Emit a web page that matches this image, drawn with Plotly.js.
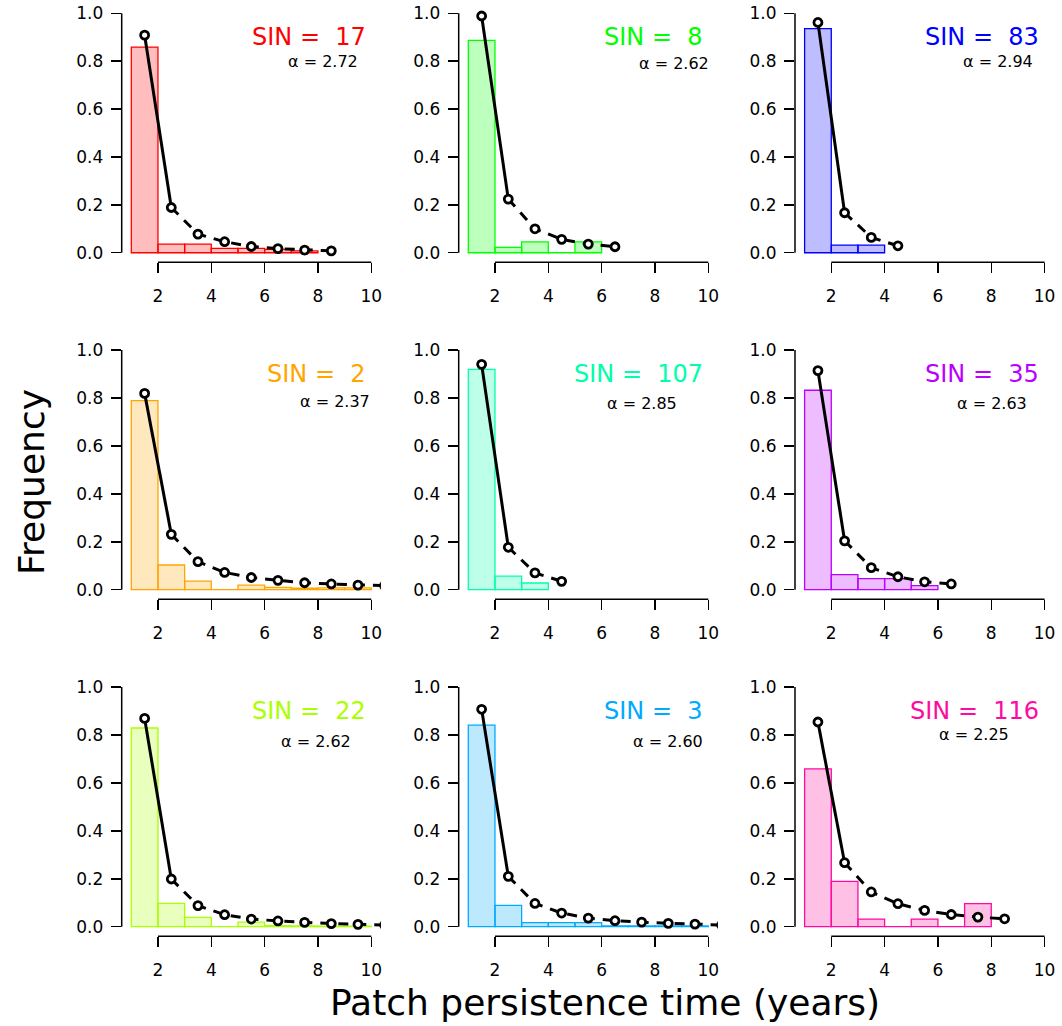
<!DOCTYPE html>
<html>
<head>
<meta charset="utf-8">
<script src="https://cdn.plot.ly/plotly-3.0.1.min.js"></script>
<style>html,body{margin:0;padding:0;background:#fff;}#chart{width:1062px;height:1026px;}</style>
</head>
<body>
<div id="chart"></div>
<script>
// ---- data ----
const binMid = [1.5, 2.5, 3.5, 4.5, 5.5, 6.5, 7.5, 8.5, 9.5, 10.5];
const sinIds = [17, 8, 83, 2, 107, 35, 22, 3, 116];
const alphaValues = [2.72, 2.62, 2.94, 2.37, 2.85, 2.63, 2.62, 2.60, 2.25];

const histSIN17  = [0.859, 0.036, 0.036, 0.018, 0.018, 0.014, 0.008];
const fitSIN17   = [0.909, 0.189, 0.078, 0.046, 0.026, 0.017, 0.011, 0.008];
const histSIN8   = [0.887, 0.022, 0.045, 0, 0.045];
const fitSIN8    = [0.989, 0.224, 0.100, 0.056, 0.036, 0.025];
const histSIN83  = [0.936, 0.032, 0.032];
const fitSIN83   = [0.962, 0.167, 0.064, 0.029];
const histSIN2   = [0.789, 0.103, 0.036, 0, 0.019, 0.010, 0.006, 0.008, 0.008];
const fitSIN2    = [0.819, 0.231, 0.117, 0.072, 0.051, 0.039, 0.029, 0.024, 0.019, 0.017];
const histSIN107 = [0.919, 0.057, 0.028];
const fitSIN107  = [0.940, 0.177, 0.070, 0.035];
const histSIN35  = [0.832, 0.063, 0.046, 0.046, 0.017];
const fitSIN35   = [0.914, 0.204, 0.092, 0.054, 0.033, 0.024];
const histSIN22  = [0.829, 0.097, 0.039, 0, 0.019, 0.004, 0.003, 0.002, 0.002];
const fitSIN22   = [0.869, 0.199, 0.088, 0.050, 0.032, 0.024, 0.018, 0.013, 0.010, 0.007];
const histSIN3   = [0.841, 0.089, 0.017, 0.017, 0.017, 0.003, 0.003, 0.003, 0.003];
const fitSIN3    = [0.907, 0.210, 0.097, 0.057, 0.036, 0.025, 0.019, 0.014, 0.011, 0.007];
const histSIN116 = [0.658, 0.189, 0.032, 0, 0.032, 0, 0.096];
const fitSIN116  = [0.854, 0.267, 0.145, 0.096, 0.068, 0.051, 0.040, 0.033];

const xTicks = [2, 4, 6, 8, 10];
const yTicks = [0, 0.2, 0.4, 0.6, 0.8, 1.0];
const xTitle = "Patch persistence time (years)";
const yTitle = "Frequency";

// ---- style / layout ----
const hists = [histSIN17, histSIN8, histSIN83, histSIN2, histSIN107, histSIN35, histSIN22, histSIN3, histSIN116];
const fits  = [fitSIN17, fitSIN8, fitSIN83, fitSIN2, fitSIN107, fitSIN35, fitSIN22, fitSIN3, fitSIN116];
const palette = [[255,0,0],[0,255,0],[0,0,255],[255,165,0],[0,255,170],[187,0,255],[170,255,0],[0,170,255],[255,10,160]];
const alphaLabelPos = [[8.19,0.80],[8.70,0.79],[8.24,0.80],[8.64,0.785],[7.51,0.777],[8.04,0.777],[7.91,0.773],[8.49,0.773],[7.37,0.80]];

const W = 1062, H = 1026;
const colPx = [[121.7, 380.9], [458.7, 717.9], [795.0, 1054.2]];
const rowPx = [[3.8, 262.3], [340.4, 599.3], [677.4, 936.3]];
const FONT = "DejaVu Sans, Liberation Sans, sans-serif";

const traces = [];
const layout = {
  width: W, height: H,
  margin: {l: 0, r: 0, t: 0, b: 0},
  paper_bgcolor: "#fff", plot_bgcolor: "rgba(0,0,0,0)",
  showlegend: false,
  barmode: "overlay",
  shapes: [], annotations: [],
  font: {family: FONT, color: "#000"}
};

for (let i = 0; i < 9; i++) {
  const r = Math.floor(i / 3), c = i % 3;
  const sfx = i === 0 ? "" : String(i + 1);
  const xa = "x" + sfx, ya = "y" + sfx;
  const col = palette[i];
  const line = `rgb(${col.join(",")})`;
  const fill = `rgba(${col.join(",")},0.26)`;
  const h = hists[i], f = fits[i];

  traces.push({
    type: "bar", x: binMid.slice(0, h.length), y: h, width: 1,
    marker: {color: fill, line: {color: line, width: 1.3}},
    xaxis: xa, yaxis: ya, hoverinfo: "skip"
  });
  traces.push({
    type: "scatter", mode: "lines", x: binMid.slice(0, 2), y: f.slice(0, 2),
    line: {color: "#000", width: 3}, xaxis: xa, yaxis: ya, hoverinfo: "skip"
  });
  traces.push({
    type: "scatter", mode: "lines", x: binMid.slice(1, f.length), y: f.slice(1),
    line: {color: "#000", width: 3, dash: "10px,8px"}, xaxis: xa, yaxis: ya, hoverinfo: "skip"
  });
  traces.push({
    type: "scatter", mode: "markers", x: binMid.slice(0, f.length), y: f,
    marker: {symbol: "circle", size: 8, color: "#fff", line: {color: "#000", width: 2.8}},
    xaxis: xa, yaxis: ya, hoverinfo: "skip"
  });

  const axCommon = {
    showgrid: false, zeroline: false, showline: false,
    ticks: "outside", ticklen: 10, tickwidth: 1.5, tickcolor: "#000",
    tickfont: {family: FONT, size: 17, color: "#000"}, fixedrange: true
  };
  layout["xaxis" + sfx] = Object.assign({}, axCommon, {
    domain: [colPx[c][0] / W, colPx[c][1] / W], range: [0.64, 10.36],
    anchor: ya, tickmode: "array", tickvals: xTicks, ticktext: xTicks.map(String),
    ticklabelstandoff: 8
  });
  layout["yaxis" + sfx] = Object.assign({}, axCommon, {
    domain: [1 - rowPx[r][1] / H, 1 - rowPx[r][0] / H], range: [-0.04, 1.04],
    anchor: xa, tickmode: "array", tickvals: yTicks, ticktext: yTicks.map(v => v.toFixed(1)),
    ticklabelstandoff: 4
  });

  // R-style detached axis lines spanning first to last tick
  layout.shapes.push({type: "line", xref: xa, yref: ya + " domain",
    x0: xTicks[0], x1: xTicks[xTicks.length - 1], y0: 0, y1: 0,
    line: {color: "#000", width: 1.5}});
  layout.shapes.push({type: "line", xref: xa + " domain", yref: ya,
    x0: 0, x1: 0, y0: yTicks[0], y1: yTicks[yTicks.length - 1],
    line: {color: "#000", width: 1.5}});

  layout.annotations.push({
    xref: xa, yref: ya, x: 9.86, y: 0.90, xanchor: "right", yanchor: "middle",
    text: "SIN =  " + sinIds[i], showarrow: false,
    font: {family: FONT, size: 24, color: line}
  });
  layout.annotations.push({
    xref: xa, yref: ya, x: alphaLabelPos[i][0], y: alphaLabelPos[i][1],
    xanchor: "center", yanchor: "middle",
    text: "\u03b1 = " + alphaValues[i].toFixed(2), showarrow: false,
    font: {family: FONT, size: 16, color: "#000"}
  });
}

layout.annotations.push({
  xref: "paper", yref: "paper", x: 605 / W, y: 1 - 1002 / H,
  xanchor: "center", yanchor: "middle", text: xTitle, showarrow: false,
  font: {family: FONT, size: 36, color: "#000"}
});
layout.annotations.push({
  xref: "paper", yref: "paper", x: 31 / W, y: 1 - 482 / H,
  xanchor: "center", yanchor: "middle", text: yTitle, showarrow: false, textangle: -90,
  font: {family: FONT, size: 36, color: "#000"}
});

Plotly.newPlot("chart", traces, layout, {staticPlot: true, displayModeBar: false});
</script>
</body>
</html>
